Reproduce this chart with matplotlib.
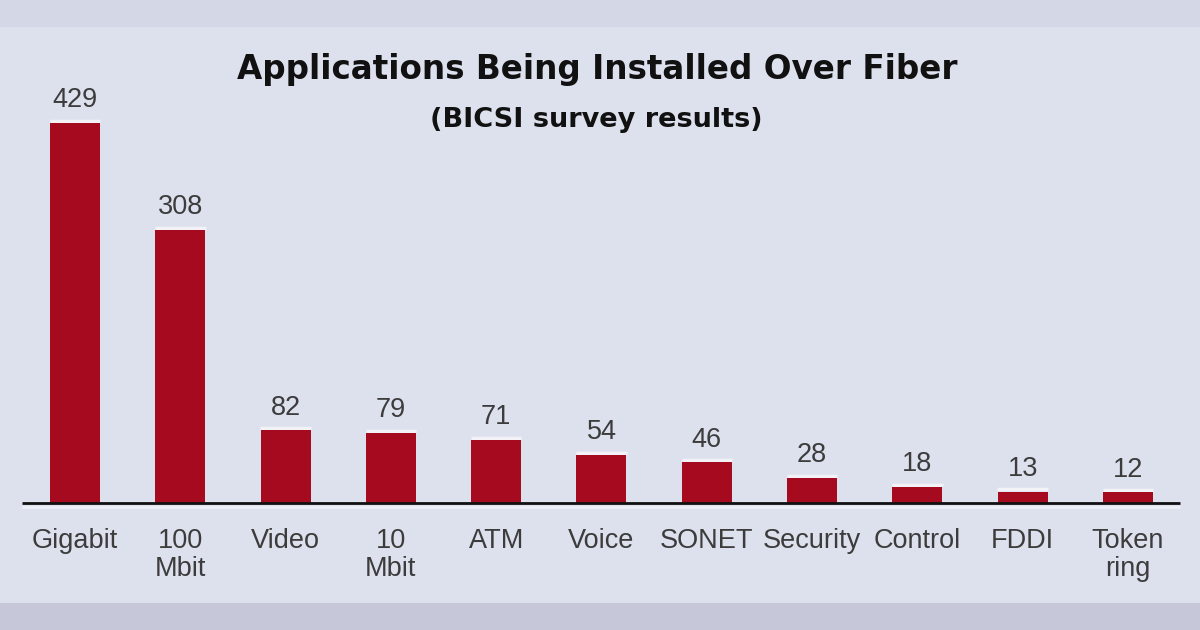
import matplotlib.pyplot as plt
from matplotlib.patches import Rectangle

categories = ["Gigabit", "100\nMbit", "Video", "10\nMbit", "ATM", "Voice",
              "SONET", "Security", "Control", "FDDI", "Token\nring"]
counts = [429, 308, 82, 79, 71, 54, 46, 28, 18, 13, 12]

TITLE = "Applications Being Installed Over Fiber"
SUBTITLE = "(BICSI survey results)"

BAR_COLOR = "#a50a1e"
TEXT_GRAY = "#3c3c3c"

fig = plt.figure(figsize=(12, 6.3), dpi=100)
fig.patch.set_facecolor("#dde1ee")

# top and bottom strips
fig.add_artist(Rectangle((0, 1 - 27 / 630), 1, 27 / 630, transform=fig.transFigure,
                         facecolor="#d4d7e5", edgecolor="none", zorder=0))
fig.add_artist(Rectangle((0, 0), 1, 27 / 630, transform=fig.transFigure,
                         facecolor="#c6c7d9", edgecolor="none", zorder=0))

ax = fig.add_axes([0, 0, 1, 1])
ax.set_facecolor("none")
ax.set_axis_off()

x = list(range(len(categories)))
ax.bar(x, counts, width=0.475, color=BAR_COLOR, zorder=3)
# faint highlight above each bar
ax.hlines([c + 2.5 for c in counts], [i - 0.24 for i in x], [i + 0.24 for i in x],
          color="#f3f3f7", linewidth=2.5, zorder=2)

ax.set_xlim(-0.712, 10.684)
ax.set_ylim(-143.3, 567.7)

# baseline
ax.hlines(0, -0.503, 10.494, color="#111111", linewidth=2, zorder=4)
ax.hlines(-4, -0.503, 10.494, color="#eef0f7", linewidth=2, zorder=4)

for i, (c, lab) in enumerate(zip(counts, categories)):
    ax.annotate(str(c), (i, c), xytext=(0, 7), textcoords="offset points",
                ha="center", va="bottom", fontsize=19.5, color=TEXT_GRAY,
                family="Liberation Sans")
    ax.annotate(lab, (i, 0), xytext=(0, -18), textcoords="offset points",
                ha="center", va="top", fontsize=19.5, color=TEXT_GRAY,
                family="Liberation Sans", linespacing=1.1)

fig.text(0.498, 1 - 79 / 630, TITLE, ha="center", va="baseline", fontsize=23.5,
         fontweight="bold", color="#111111", family="DejaVu Sans")
fig.text(0.497, 1 - 127 / 630, SUBTITLE, ha="center", va="baseline", fontsize=19.5,
         fontweight="bold", color="#111111", family="DejaVu Sans")

fig.savefig("out.png", dpi=100, facecolor=fig.get_facecolor())
